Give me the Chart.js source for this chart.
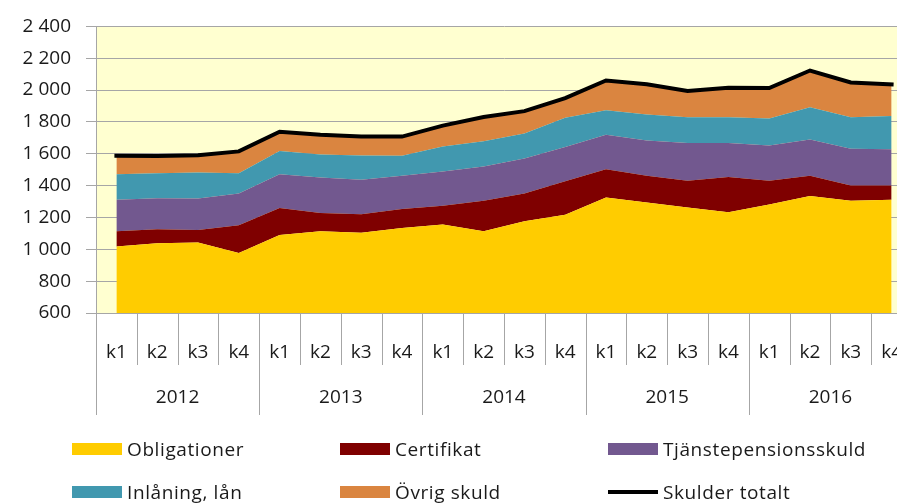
<!DOCTYPE html>
<html><head><meta charset="utf-8">
<script src="https://cdn.jsdelivr.net/npm/chart.js@4"></script>
<style>
html,body{margin:0;padding:0;overflow:hidden;background:#fff;width:897px;height:503px}
#wrap{position:relative;width:912px;height:503px}
canvas{position:absolute;left:0;top:0}
.lg{position:absolute;font:19px 'Open Sans',sans-serif;letter-spacing:0.6px;color:#1a1a1a;white-space:nowrap;display:flex;align-items:center;height:24px}
.sw{display:inline-block;width:50px;margin-right:5px}
</style></head><body>
<div id="wrap"><canvas id="c" width="912" height="503"></canvas><div id="legend"></div></div>
<script>
const years = ['2012','2013','2014','2015','2016'];
const quarterLabels = ['k1','k2','k3','k4','k1','k2','k3','k4','k1','k2','k3','k4','k1','k2','k3','k4','k1','k2','k3','k4'];
const obligationer = [1018,1038,1042,977,1090,1114,1104,1134,1156,1114,1176,1217,1325,1294,1263,1233,1281,1335,1305,1311];
const certifikat = [96,88,80,174,169,114,116,119,118,191,175,210,178,168,168,221,150,127,95,89];
const tjanstepension = [197,195,197,200,213,223,217,209,214,215,220,216,217,221,236,213,221,227,232,228];
const inlaning = [161,157,164,127,146,144,152,125,158,159,157,184,154,164,163,163,170,203,198,209];
const ovrigSkuld = [115,108,108,137,120,125,119,121,131,152,140,123,186,189,164,185,191,231,218,199];
const skulderTotalt = [1587,1586,1591,1615,1738,1720,1708,1708,1777,1831,1868,1950,2060,2036,1994,2015,2013,2123,2048,2036];
const yTicks = [600,800,1000,1200,1400,1600,1800,2000,2200,2400];

const seriesNames = ['Obligationer','Certifikat','Tjänstepensionsskuld','Inlåning, lån','Övrig skuld','Skulder totalt'];
const seriesColors = ['#FFCC00','#7F0000','#72588F','#4198AF','#DA8540','#000000'];
const seriesData = [obligationer, certifikat, tjanstepension, inlaning, ovrigSkuld];

const FONT = "'Open Sans', sans-serif";
const TEXT = '#1a1a1a';
const GRID = '#A6A6A6';

const fmt = v => String(v).replace(/\B(?=(\d{3})+(?!\d))/g, ' ');

const datasets = seriesData.map((d, i) => ({
  label: seriesNames[i], data: d, backgroundColor: seriesColors[i], borderWidth: 0,
  borderColor: seriesColors[i], fill: i === 0 ? 'start' : '-1', pointRadius: 0, tension: 0, order: 1
}));
datasets.push({
  label: seriesNames[5], data: skulderTotalt, borderColor: '#000', borderWidth: 4,
  fill: false, pointRadius: 0, tension: 0, stack: 'total', order: -1, borderCapStyle: 'square'
});

const bgPlugin = {
  id: 'bg',
  beforeDraw(chart) {
    const a = chart.chartArea, ctx = chart.ctx;
    ctx.save(); ctx.fillStyle = '#FFFFD0';
    ctx.fillRect(a.left, a.top, a.right - a.left, a.bottom - a.top);
    ctx.restore();
  }
};
const catAxisPlugin = {
  id: 'catAxis',
  afterDraw(chart) {
    const xs = chart.scales.x, ctx = chart.ctx;
    const w = xs.getPixelForValue(1) - xs.getPixelForValue(0);
    const x0 = xs.getPixelForValue(0) - w / 2;
    const top = chart.chartArea.bottom;
    ctx.save();
    ctx.strokeStyle = GRID; ctx.lineWidth = 1;
    for (let j = 0; j <= quarterLabels.length; j++) {
      const x = Math.round(x0 + j * w) + 0.5;
      ctx.beginPath(); ctx.moveTo(x, top);
      ctx.lineTo(x, top + (j % 4 === 0 ? 102 : 52)); ctx.stroke();
    }
    ctx.fillStyle = TEXT; ctx.font = '19px ' + FONT;
    ctx.textAlign = 'center'; ctx.textBaseline = 'middle';
    years.forEach((y, k) => {
      ctx.fillText(y, x0 + (k * 4 + 2) * w, top + 85);
    });
    ctx.restore();
  }
};

new Chart(document.getElementById('c'), {
  type: 'line',
  data: { labels: quarterLabels, datasets },
  plugins: [bgPlugin, catAxisPlugin],
  options: {
    responsive: false, animation: false,
    layout: { padding: { top: 20, right: 0, bottom: 80, left: 0 } },
    plugins: { legend: { display: false }, tooltip: { enabled: false } },
    scales: {
      x: {
        type: 'category', offset: true,
        grid: { display: true, drawOnChartArea: false, drawTicks: true, tickLength: 26, tickColor: 'rgba(0,0,0,0)', offset: true },
        border: { display: false },
        ticks: { autoSkip: false, maxRotation: 0, minRotation: 0, padding: 2, color: TEXT, font: { family: FONT, size: 19 } },
        afterFit(s) { s.height = 110; }
      },
      y: {
        stacked: true, min: 600, max: 2400,
        afterBuildTicks(s) { s.ticks = yTicks.map(v => ({ value: v })); },
        grid: { color: GRID, lineWidth: 1, drawTicks: true, tickLength: 10, tickColor: GRID },
        border: { display: true, color: GRID, width: 1 },
        ticks: { padding: 15, color: TEXT, font: { family: FONT, size: 19 }, callback: v => fmt(v) },
        afterFit(s) { s.width = 96; }
      }
    }
  }
});

// HTML legend built from the series names / colours
const lg = document.getElementById('legend');
const cols = [72, 340, 608], rows = [449, 492];
seriesNames.forEach((n, i) => {
  const d = document.createElement('div');
  d.className = 'lg';
  d.style.left = cols[i % 3] + 'px';
  d.style.top = (rows[Math.floor(i / 3)] - 12) + 'px';
  const sw = document.createElement('span');
  sw.className = 'sw';
  sw.style.background = seriesColors[i];
  sw.style.height = (i === 5 ? 4 : 12) + 'px';
  d.appendChild(sw);
  d.appendChild(document.createTextNode(n));
  lg.appendChild(d);
});
</script>
</body></html>
